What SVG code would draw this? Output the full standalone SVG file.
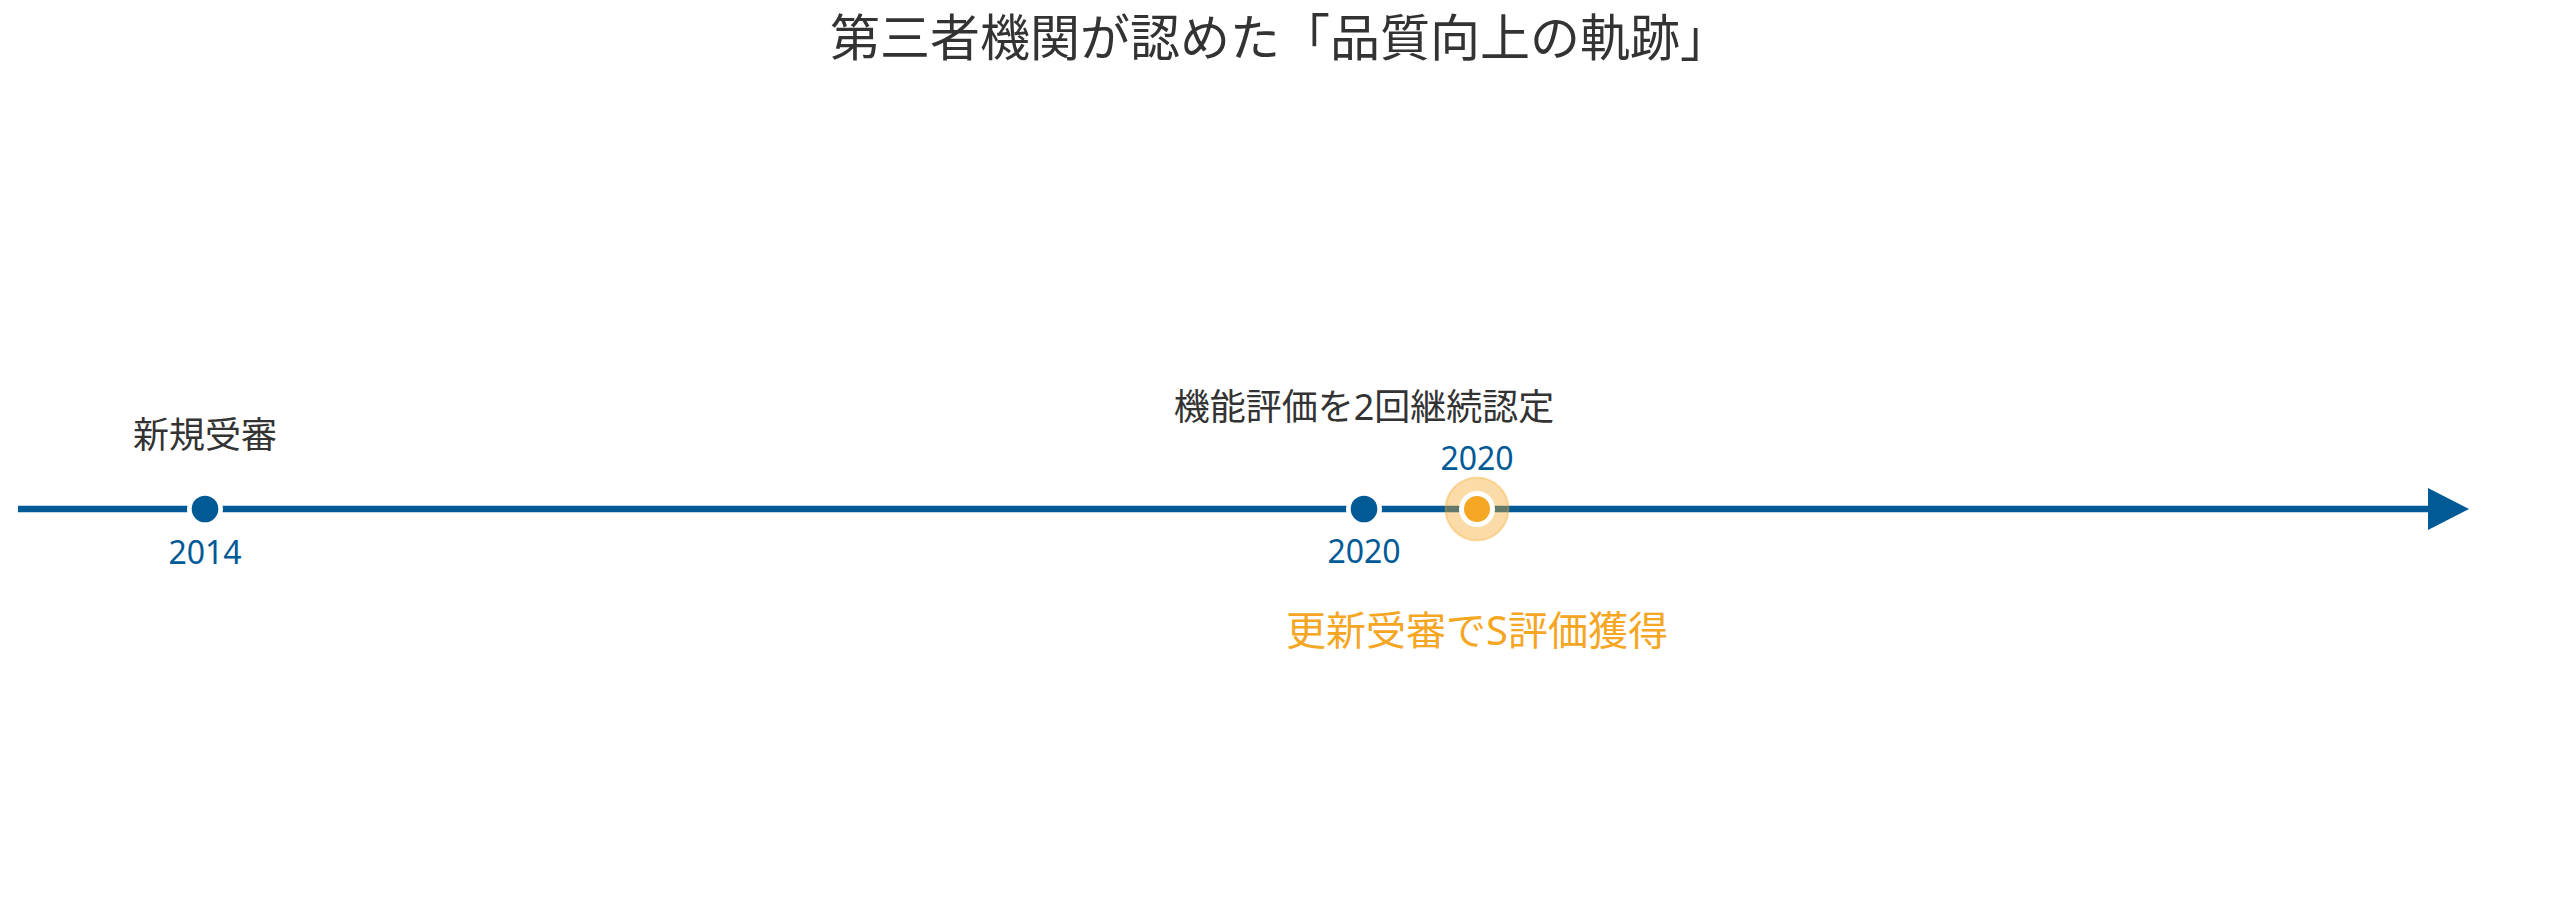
<svg xmlns="http://www.w3.org/2000/svg" width="2560" height="902" viewBox="0 0 2560 902">
  <style>
    text { font-family: "Noto Sans", "Noto Sans CJK JP", sans-serif; }
    .title { font-size: 50px; fill: #333333; text-anchor: middle; }
    .label { font-size: 36px; fill: #333333; text-anchor: middle; }
    .year { font-size: 32px; fill: #005a96; text-anchor: middle; }
    .hl { font-size: 40px; fill: #f5a623; text-anchor: middle; }
    .dot { fill: #005a96; }
    .gap { fill: #ffffff; }
  </style>
  <defs>
    <marker id="arrow" viewBox="0 0 41 42" refX="0" refY="21" markerWidth="41" markerHeight="42" markerUnits="userSpaceOnUse" orient="auto">
      <path d="M0,0 L41,21 L0,42 Z" fill="#005a96"/>
    </marker>
  </defs>
  <rect width="2560" height="902" fill="#ffffff"/>

  <g id="title">
    <text class="title" x="1280" y="56">第三者機関が認めた「品質向上の軌跡」</text>
  </g>

  <g id="connectors">
    <line x1="18" y1="509" x2="2428" y2="509" stroke="#005a96" stroke-width="6.5" marker-end="url(#arrow)"/>
  </g>

  <g id="event-2014">
    <circle class="gap" cx="205" cy="509" r="18"/>
    <circle class="dot" cx="205" cy="509" r="13.3"/>
    <text class="label" x="205" y="448">新規受審</text>
    <text class="year" x="205" y="564">2014</text>
  </g>

  <g id="event-2020-functional">
    <circle class="gap" cx="1364" cy="509" r="18"/>
    <circle class="dot" cx="1364" cy="509" r="13.3"/>
    <text class="label" x="1364" y="420">機能評価を2回継続認定</text>
    <text class="year" x="1364" y="563">2020</text>
  </g>

  <g id="event-2020-renewal">
    <circle cx="1477" cy="509" r="31.5" fill="#f5a623" fill-opacity="0.4" stroke="#f5a623" stroke-opacity="0.35" stroke-width="2"/>
    <circle class="gap" cx="1477" cy="509" r="18"/>
    <circle cx="1477" cy="509" r="13" fill="#f5a623"/>
    <text class="year" x="1477" y="470">2020</text>
    <text class="hl" x="1477" y="645">更新受審でS評価獲得</text>
  </g>
</svg>
